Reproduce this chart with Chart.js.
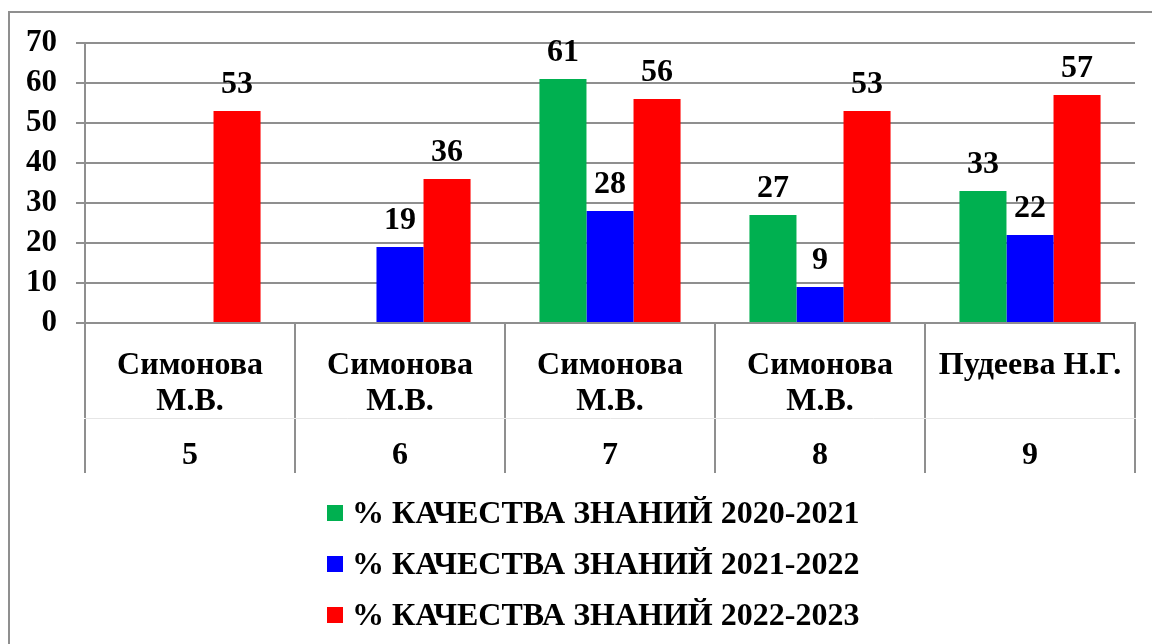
<!DOCTYPE html>
<html>
<head>
<meta charset="utf-8">
<script src="https://cdn.jsdelivr.net/npm/chart.js@4/dist/chart.umd.min.js"></script>
<style>
  html, body { margin: 0; padding: 0; background: #fff; }
  canvas { display: block; }
</style>
</head>
<body>
<canvas id="c" width="1152" height="644"></canvas>
<script>
// ---- data ----
const teachers = [["Симонова", "М.В."], ["Симонова", "М.В."], ["Симонова", "М.В."], ["Симонова", "М.В."], ["Пудеева Н.Г."]];
const grades = ["5", "6", "7", "8", "9"];
const seriesNames = ["% КАЧЕСТВА ЗНАНИЙ 2020-2021", "% КАЧЕСТВА ЗНАНИЙ 2021-2022", "% КАЧЕСТВА ЗНАНИЙ 2022-2023"];
const q2020 = [null, null, 61, 27, 33];
const q2021 = [null, 19, 28, 9, 22];
const q2022 = [53, 36, 56, 53, 57];
const colors = ["#00B050", "#0000FF", "#FF0000"];

const FONT = "'Liberation Serif', 'Times New Roman', serif";
const GRID = "#8f8f8f";

const frame = {
  id: 'frame',
  beforeDraw(chart) {
    const ctx = chart.ctx;
    ctx.save();
    ctx.fillStyle = '#fff';
    ctx.fillRect(0, 0, chart.width, chart.height);
    ctx.strokeStyle = GRID;
    ctx.lineWidth = 2;
    ctx.strokeRect(9, 12, chart.width + 20, chart.height + 20);
    ctx.restore();
  }
};

const valueLabels = {
  id: 'valueLabels',
  afterDatasetsDraw(chart) {
    const ctx = chart.ctx;
    ctx.save();
    ctx.font = "bold 32px " + FONT;
    ctx.fillStyle = '#000';
    ctx.textAlign = 'center';
    ctx.textBaseline = 'alphabetic';
    chart.data.datasets.forEach((ds, i) => {
      const meta = chart.getDatasetMeta(i);
      meta.data.forEach((el, j) => {
        const v = ds.data[j];
        if (v === null || v === undefined) return;
        ctx.fillText(String(v), el.x, el.y - 18);
      });
    });
    ctx.restore();
  }
};

const stackedLegend = {
  id: 'stackedLegend',
  afterDraw(chart) {
    const ctx = chart.ctx;
    ctx.save();
    ctx.font = "bold 32px " + FONT;
    ctx.textAlign = 'left';
    ctx.textBaseline = 'middle';
    const x0 = 327, y0 = 513, step = 51, box = 16;
    chart.data.datasets.forEach((ds, i) => {
      const cy = y0 + i * step;
      ctx.fillStyle = ds.backgroundColor;
      ctx.fillRect(x0, cy - box / 2, box, box);
      ctx.fillStyle = '#000';
      ctx.fillText(ds.label, x0 + 25, cy + 2);
    });
    ctx.restore();
  }
};

new Chart(document.getElementById('c'), {
  type: 'bar',
  data: {
    labels: teachers,
    datasets: [
      { label: seriesNames[0], data: q2020, backgroundColor: colors[0] },
      { label: seriesNames[1], data: q2021, backgroundColor: colors[1] },
      { label: seriesNames[2], data: q2022, backgroundColor: colors[2] }
    ]
  },
  options: {
    responsive: false,
    animation: false,
    devicePixelRatio: 1,
    layout: { padding: { left: 0, right: 17, top: 43, bottom: 171 } },
    datasets: { bar: { categoryPercentage: 0.672, barPercentage: 1.0 } },
    plugins: {
      legend: { display: false },
      tooltip: { enabled: false }
    },
    scales: {
      y: {
        min: 0, max: 70,
        ticks: { stepSize: 10, autoSkip: false, color: '#000', font: { family: FONT, size: 31, weight: 'bold' }, padding: 19 },
        grid: { color: GRID, lineWidth: 2, tickLength: 9 },
        border: { color: GRID, width: 2 },
        afterFit(s) { s.width = 85; }
      },
      x: {
        weight: 0,
        offset: true,
        ticks: { color: '#000', font: { family: FONT, size: 32, weight: 'bold', lineHeight: 36 / 32 }, padding: -70, maxRotation: 0, autoSkip: false },
        grid: { offset: true, drawOnChartArea: false, color: GRID, lineWidth: 2, tickLength: 95 },
        border: { color: GRID, width: 2 },
        afterFit(s) { s.height = 95; }
      },
      x2: {
        type: 'category',
        position: 'bottom',
        weight: 1,
        labels: grades,
        offset: true,
        ticks: { color: '#000', font: { family: FONT, size: 32, weight: 'bold', lineHeight: 35 / 32 }, padding: -34.5, maxRotation: 0, autoSkip: false },
        grid: { offset: true, drawOnChartArea: false, color: GRID, lineWidth: 2, tickLength: 55 },
        border: { color: '#e6e6e6', width: 1 },
        afterFit(s) { s.height = 55; }
      }
    }
  },
  plugins: [frame, valueLabels, stackedLegend]
});
</script>
</body>
</html>
